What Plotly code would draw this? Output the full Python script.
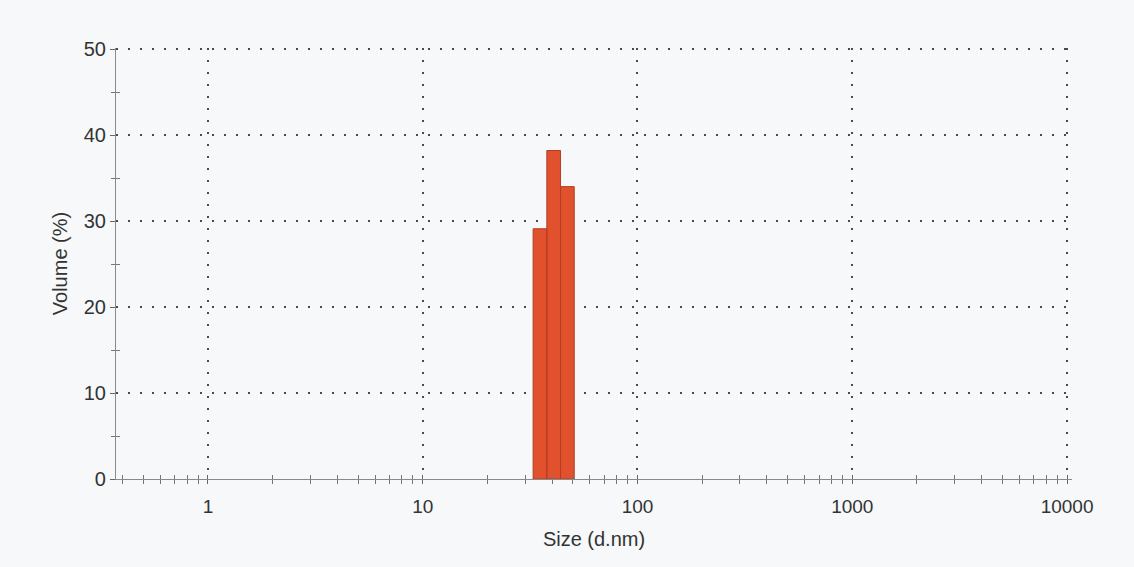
import plotly.graph_objects as go

# Size classes (d.nm) bounding each histogram bar, and volume % per bar
bin_edges = [32.67, 37.84, 43.82, 50.75]
volume_pct = [29.1, 38.2, 34.0]

x_ticks = [1, 10, 100, 1000, 10000]
x_tick_text = ["1", "10", "100", "1000", "10000"]
y_ticks = [0, 10, 20, 30, 40, 50]
y_minor = [5, 15, 25, 35, 45]
x_minor = [m * 10 ** d for d in range(-1, 4) for m in range(2, 10) if 0.37 < m * 10 ** d < 10000]

BG = "#f6f8fa"
FONT = "Liberation Sans, Arial, sans-serif"
GRID = dict(showgrid=True, gridcolor="#4a4a4a", gridwidth=1.6, griddash="1.6px,10.4px")

fig = go.Figure()

# histogram bars as closed polygons on the log-size axis
bx, by = [], []
for i, v in enumerate(volume_pct):
    lo, hi = bin_edges[i], bin_edges[i + 1]
    bx += [lo, lo, hi, hi, lo, None]
    by += [0, v, v, 0, 0, None]
fig.add_trace(go.Scatter(
    x=bx, y=by, mode="lines", fill="toself",
    fillcolor="#e1512d", line=dict(color="#b23f24", width=1),
    hoverinfo="skip", showlegend=False,
))

# companion trace so the overlaid tick axes are drawn
fig.add_trace(go.Scatter(x=[1], y=[0], xaxis="x2", yaxis="y2",
                         mode="markers", marker=dict(opacity=0),
                         hoverinfo="skip", showlegend=False))

xr = [-0.428, 4.023]
yr = [0, 50.12]
fig.update_layout(
    width=1134, height=567,
    margin=dict(l=116, r=62, t=48, b=88),
    paper_bgcolor=BG, plot_bgcolor=BG,
    font=dict(family=FONT, size=19, color="#333333"),
    xaxis=dict(
        type="log", range=xr, tickmode="array", tickvals=x_ticks, ticktext=x_tick_text,
        ticks="outside", ticklen=4, tickcolor="#666666", tickwidth=1,
        minor=dict(tickmode="array", tickvals=x_minor, ticks="outside", ticklen=4,
                   tickcolor="#777777", tickwidth=1, showgrid=False),
        showline=True, linecolor="#8a8a8a", linewidth=1.2,
        zeroline=False, ticklabelstandoff=6, tickfont=dict(size=19),
        title=dict(text="Size (d.nm)", font=dict(size=20), standoff=16),
        **GRID,
    ),
    xaxis2=dict(
        type="log", range=xr, overlaying="x", anchor="y2", side="bottom",
        tickmode="array", tickvals=x_ticks, ticks="inside", ticklen=4,
        tickcolor="#666666", showticklabels=False, showgrid=False, showline=False,
        minor=dict(tickmode="array", tickvals=x_minor, ticks="inside", ticklen=4,
                   tickcolor="#777777", tickwidth=1, showgrid=False),
        zeroline=False,
    ),
    yaxis=dict(
        range=yr, tickmode="array", tickvals=y_ticks,
        ticks="outside", ticklen=5, tickcolor="#666666",
        minor=dict(tickmode="array", tickvals=y_minor, ticks="outside", ticklen=4,
                   tickcolor="#777777", tickwidth=1, showgrid=False),
        showline=True, linecolor="#8a8a8a", linewidth=1.2,
        zeroline=False, ticklabelstandoff=0, tickfont=dict(size=20),
        title=dict(text="Volume (%)", font=dict(size=20), standoff=10),
        **GRID,
    ),
    yaxis2=dict(
        range=yr, overlaying="y", anchor="x2", side="left",
        tickmode="array", tickvals=y_ticks, ticks="", showticklabels=False,
        minor=dict(tickmode="array", tickvals=y_minor, ticks="inside", ticklen=4,
                   tickcolor="#777777", tickwidth=1, showgrid=False),
        showgrid=False, showline=False, zeroline=False,
    ),
)

fig.write_html("out.html")
